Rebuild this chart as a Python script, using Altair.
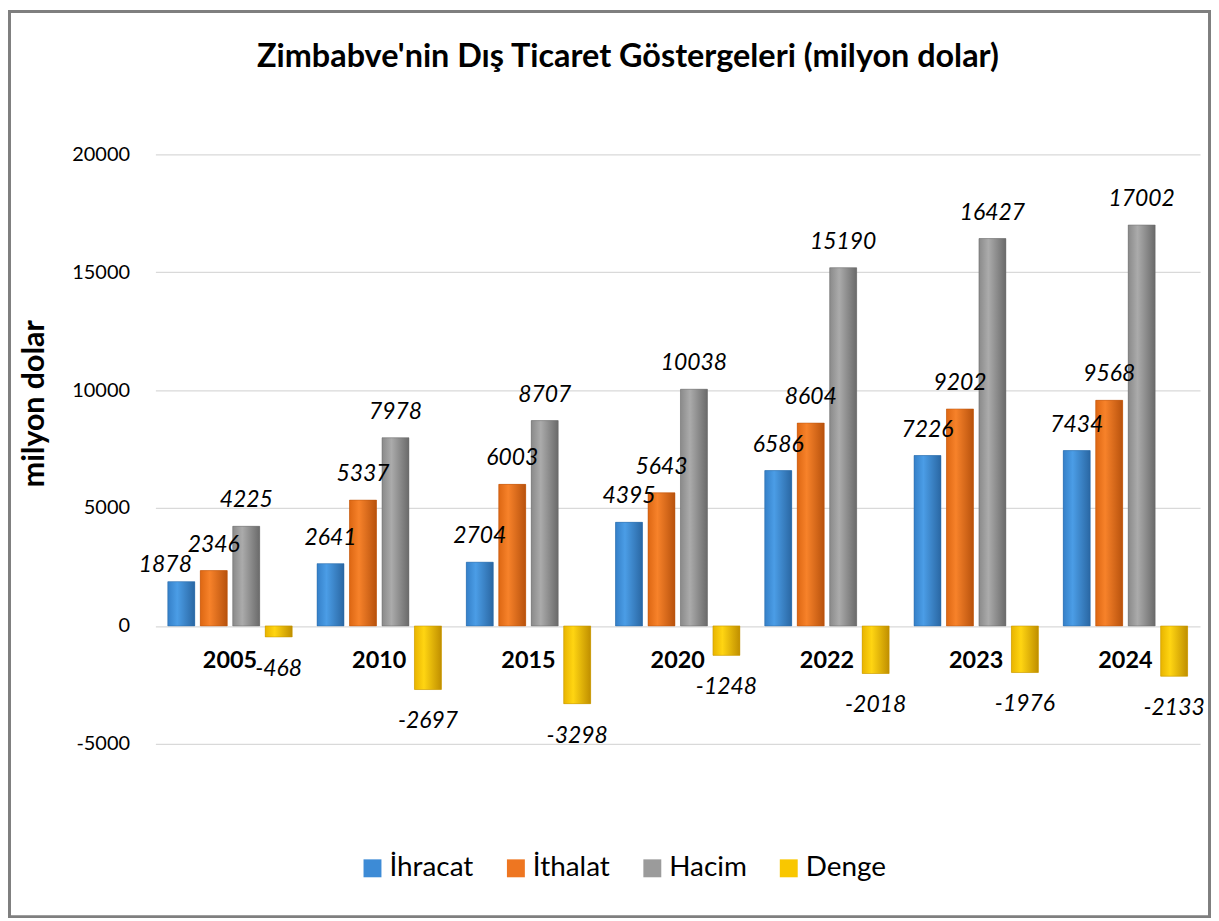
import altair as alt
import pandas as pd

years = ["2005", "2010", "2015", "2020", "2022", "2023", "2024"]
series = ["İhracat", "İthalat", "Hacim", "Denge"]
ihracat = [1878, 2641, 2704, 4395, 6586, 7226, 7434]
ithalat = [2346, 5337, 6003, 5643, 8604, 9202, 9568]
hacim = [4225, 7978, 8707, 10038, 15190, 16427, 17002]
denge = [-468, -2697, -3298, -1248, -2018, -1976, -2133]
y_ticks = [-5000, 0, 5000, 10000, 15000, 20000]

flat = ["#3d8bd6", "#ee7621", "#9b9b9b", "#f9c700"]
grads = {
    "İhracat": ["#3580c8", "#4b9de6", "#2a67a3"],
    "İthalat": ["#dd6713", "#f7822a", "#b8520d"],
    "Hacim": ["#8a8a8a", "#ababab", "#6a6a6a"],
    "Denge": ["#e8b400", "#ffd512", "#c08f00"],
}

rows = []
for name, vals in zip(series, [ihracat, ithalat, hacim, denge]):
    for yr, v in zip(years, vals):
        rows.append({"year": yr, "series": name, "value": v, "label": str(v)})
df = pd.DataFrame(rows)
years_df = pd.DataFrame({"year": years, "zero": [0] * len(years)})

FONT = "Lato"

x_enc = alt.X("year:N", sort=years, axis=None,
              scale=alt.Scale(paddingInner=0.1667, paddingOuter=0.0833))
xo_enc = alt.XOffset("series:N", sort=series,
                     scale=alt.Scale(paddingInner=0.17, paddingOuter=0))
y_enc = alt.Y("value:Q",
              scale=alt.Scale(domain=[-5000, 20000], nice=False, zero=False),
              axis=alt.Axis(values=y_ticks, title="milyon dolar", grid=True,
                            gridColor="#d9d9d9", gridWidth=1.3, domain=False,
                            ticks=False, labelFontSize=20, labelFont=FONT,
                            labelColor="#000000", labelPadding=26,
                            labelExpr="'' + datum.value",
                            titleFont=FONT, titleFontSize=30.5,
                            titleFontWeight="bold", titleColor="#000000",
                            titleX=-106, titleY=250, titleAngle=270,
                            titleBaseline="bottom", titleAlign="center"))

base = alt.Chart(df)

bars = base.mark_bar().encode(
    x=x_enc, xOffset=xo_enc, y=y_enc, y2=alt.Y2(datum=0),
    color=alt.Color("series:N", sort=series,
                    scale=alt.Scale(domain=series, range=flat),
                    legend=alt.Legend(title=None, orient="none",
                                      direction="horizontal",
                                      legendX=204, legendY=703,
                                      symbolType="square", symbolSize=324,
                                      symbolStrokeWidth=0,
                                      labelFont=FONT, labelFontSize=28,
                                      labelColor="#000000", labelOffset=3,
                                      columnPadding=28)),
)

grad_layers = []
for s in series:
    c0, c1, c2 = grads[s]
    g = alt.LinearGradient(
        gradient="linear", x1=0, x2=1, y1=0, y2=0,
        stops=[alt.GradientStop(offset=0, color=c0),
               alt.GradientStop(offset=0.35, color=c1),
               alt.GradientStop(offset=1, color=c2)])
    grad_layers.append(
        base.transform_filter(alt.datum.series == s)
        .mark_bar(fill=g, stroke=c2, strokeWidth=0.8, strokeOpacity=0.6)
        .encode(x=x_enc, xOffset=xo_enc, y=y_enc, y2=alt.Y2(datum=0))
    )

first = (alt.datum.year == years[0]) & (alt.datum.series == series[0])

pos_labels = base.transform_filter(
    (alt.datum.value >= 0) & ~first
).mark_text(
    font=FONT, fontSize=23, fontStyle="italic", color="#000000",
    baseline="bottom", dy=-14
).encode(x=x_enc, xOffset=xo_enc, y=y_enc, text="label:N")

nudged_label = base.transform_filter(first).mark_text(
    font=FONT, fontSize=23, fontStyle="italic", color="#000000",
    baseline="bottom", dy=-5, dx=-16
).encode(x=x_enc, xOffset=xo_enc, y=y_enc, text="label:N")

neg_labels = base.transform_filter(alt.datum.value < 0).mark_text(
    font=FONT, fontSize=23, fontStyle="italic", color="#000000",
    baseline="top", dy=21
).encode(x=x_enc, xOffset=xo_enc, y=y_enc, text="label:N")

year_labels = alt.Chart(years_df).mark_text(
    font=FONT, fontSize=23.5, fontWeight="bold", color="#000000",
    baseline="middle", dy=35
).encode(x=x_enc, y=alt.Y("zero:Q"), text="year:N")

border = alt.Chart(alt.Data(values=[{"a": 1}])).mark_rect(
    fill=None, stroke="#7f7f7f", strokeWidth=3
).encode(x=alt.value(-146.5), x2=alt.value(1049 + 9.5),
         y=alt.value(-143.5), y2=alt.value(592 + 173.5))

chart = alt.layer(bars, *grad_layers, pos_labels, nudged_label, neg_labels,
                  year_labels, border).properties(
    width=1049, height=592,
    title=alt.TitleParams(
        "Zimbabve'nin Dış Ticaret Göstergeleri (milyon dolar)",
        font=FONT, fontSize=32.5, fontWeight="bold", color="#000000",
        anchor="middle", dx=-50, offset=-64),
    autosize=alt.AutoSizeParams(type="none"),
    padding={"left": 148, "top": 145, "right": 11, "bottom": 175},
).configure_view(stroke=None)

chart.save("out.html", embed_options={"renderer": "svg", "actions": False})
